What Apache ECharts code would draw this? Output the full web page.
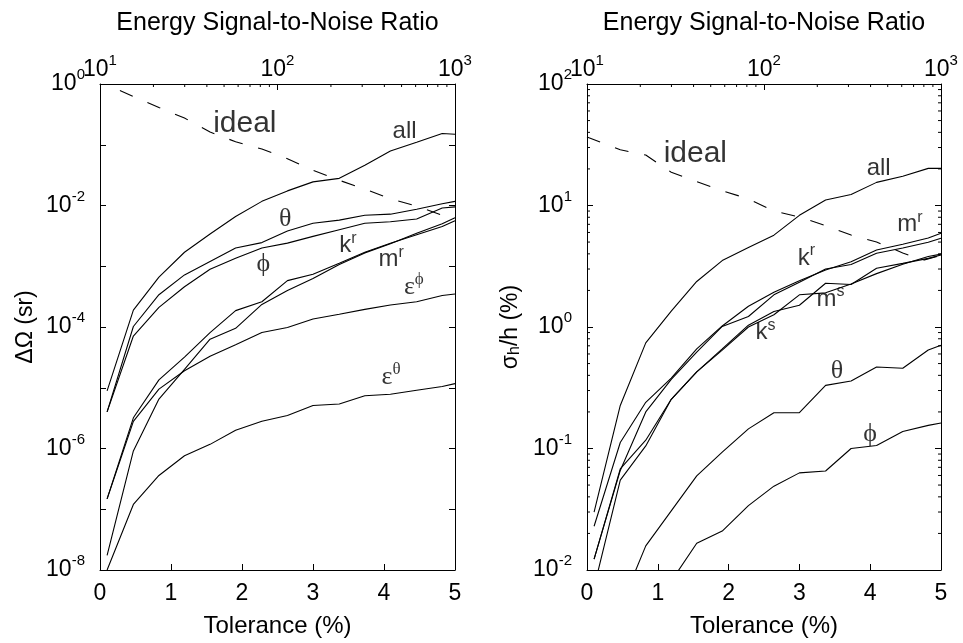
<!DOCTYPE html>
<html>
<head>
<meta charset="utf-8">
<script src="https://cdn.jsdelivr.net/npm/echarts@6/dist/echarts.min.js"></script>
<style>
html,body{margin:0;padding:0;background:#fff}
#chart{width:963px;height:643px}
</style>
</head>
<body>
<div id="chart"></div>
<script>
/* Tolérance vs ΔΩ / σh/h — two log panels */
const TOL = [0.1, 0.47, 0.83, 1.19, 1.55, 1.91, 2.28, 2.64, 3.0, 3.37, 3.73, 4.09, 4.46, 4.82, 5.0];

// left panel: ΔΩ (sr)
const L_ALL    = [8.9e-6, 1.9e-4, 6.6e-4, 1.7e-3, 3.4e-3, 6.6e-3, 1.17e-2, 1.74e-2, 2.45e-2, 2.8e-2, 4.6e-2, 7.9e-2, 0.11, 0.153, 0.149];
const L_THETA  = [4.0e-6, 1.02e-4, 3.4e-4, 7.2e-4, 1.2e-3, 2.0e-3, 2.45e-3, 3.8e-3, 5.1e-3, 5.75e-3, 6.9e-3, 7.2e-3, 8.7e-3, 1.07e-2, 1.17e-2];
const L_PHI    = [4.0e-6, 7.1e-5, 2.1e-4, 4.6e-4, 8.9e-4, 1.35e-3, 2.0e-3, 2.4e-3, 3.1e-3, 4.0e-3, 5.1e-3, 5.4e-3, 6.0e-3, 9.1e-3, 9.5e-3];
const L_KR     = [1.48e-7, 3.2e-6, 1.35e-5, 3.2e-5, 8.1e-5, 1.86e-4, 2.6e-4, 5.8e-4, 7.4e-4, 1.12e-3, 1.7e-3, 2.4e-3, 3.3e-3, 4.5e-3, 5.6e-3];
const L_MR     = [1.74e-8, 9.1e-7, 6.5e-6, 2.0e-5, 6.3e-5, 9.5e-5, 2.35e-4, 4.0e-4, 6.3e-4, 1.07e-3, 1.66e-3, 2.35e-3, 3.5e-3, 5.0e-3, 6.3e-3];
const L_EPHI   = [1.48e-7, 2.8e-6, 9.5e-6, 1.9e-5, 3.3e-5, 5.1e-5, 8.1e-5, 9.8e-5, 1.35e-4, 1.62e-4, 1.95e-4, 2.3e-4, 2.6e-4, 3.3e-4, 3.5e-4];
const L_ETHETA = [1.0e-8, 1.2e-7, 3.6e-7, 7.6e-7, 1.17e-6, 2.0e-6, 2.8e-6, 3.5e-6, 5.1e-6, 5.4e-6, 7.4e-6, 7.8e-6, 9.1e-6, 1.05e-5, 1.17e-5];
const L_IDEAL_X = [0.28, 0.83, 1.19, 1.55, 1.91, 2.28, 2.64, 3.0, 3.37, 3.73, 4.09, 4.46, 4.82, 5.0];
const L_IDEAL   = [0.78, 0.41, 0.275, 0.162, 0.112, 0.085, 0.059, 0.038, 0.026, 0.0186, 0.0129, 0.0098, 0.0069, 0.0062];

// right panel: σh/h (%)
const R_ALL   = [0.030, 0.226, 0.74, 1.35, 2.37, 3.52, 4.52, 5.7, 8.3, 11.1, 12.3, 15.5, 17.4, 20.2, 20.2];
const R_KR    = [0.0229, 0.112, 0.24, 0.38, 0.66, 1.02, 1.48, 1.93, 2.4, 2.95, 3.45, 4.3, 4.8, 5.4, 5.9];
const R_MR    = [0.0123, 0.066, 0.20, 0.37, 0.62, 1.01, 1.22, 1.84, 2.34, 3.0, 3.27, 4.04, 4.47, 4.98, 5.37];
const R_KS    = [0.0123, 0.068, 0.117, 0.254, 0.427, 0.66, 1.035, 1.34, 1.51, 2.29, 2.24, 3.04, 3.34, 3.67, 3.92];
const R_MS    = [0.0072, 0.055, 0.105, 0.254, 0.427, 0.645, 1.0, 1.26, 1.84, 1.91, 2.26, 2.75, 3.28, 3.8, 3.98];
const R_THETA = [5.0e-4, 0.0049, 0.0158, 0.0307, 0.0596, 0.0933, 0.145, 0.197, 0.197, 0.331, 0.359, 0.468, 0.457, 0.646, 0.708];
const R_PHI   = [1e-4, 1e-3, 3.2e-3, 0.0081, 0.0166, 0.0209, 0.0339, 0.049, 0.063, 0.0653, 0.10, 0.106, 0.138, 0.155, 0.162];
const R_IDEAL_X = [0, 0.47, 0.83, 1.19, 1.55, 1.91, 2.28, 2.64, 3.0, 3.37, 3.73, 4.09, 4.46, 4.75, 5.0];
const R_IDEAL   = [36.7, 28.8, 26.0, 18.8, 15.7, 13.2, 11.35, 9.0, 8.04, 6.84, 5.71, 5.01, 4.07, 3.55, 3.89];

// curve labels [x, y, text]
const L_NOTES = [
  [2.04, 0.226, "{big|ideal}"], [4.29, 0.166, "{t|all}"],
  [2.61, 5.9e-3, "{g|θ}"], [2.30, 1.07e-3, "{g|ϕ}"],
  [3.49, 2.2e-3, "{t|k}{ts|r}"], [4.10, 1.3e-3, "{t|m}{ts|r}"],
  [4.42, 4.6e-4, "{g|ε}{gs|ϕ}"], [4.10, 1.48e-5, "{g|ε}{gs|θ}"]
];
const R_NOTES = [
  [1.53, 26.9, "{big|ideal}"], [4.12, 20.4, "{t|all}"],
  [4.56, 7.0, "{t|m}{ts|r}"], [3.10, 3.7, "{t|k}{ts|r}"],
  [3.44, 1.7, "{t|m}{ts|s}"], [2.52, 0.9, "{t|k}{ts|s}"],
  [3.53, 0.434, "{g|θ}"], [4.0, 0.132, "{g|ϕ}"]
];

// minor tick positions
const SNR_MINOR = [20,30,40,50,60,70,80,90,200,300,400,500,600,700,800,900];
const R_Y_MINOR = [0.02,0.03,0.04,0.05,0.06,0.07,0.08,0.09,0.2,0.3,0.4,0.5,0.6,0.7,0.8,0.9,
                   2,3,4,5,6,7,8,9,20,30,40,50,60,70,80,90];

const FONT = "'Liberation Sans', Arial, Helvetica, sans-serif";
const SERIF = "'Liberation Serif', 'DejaVu Serif', serif";
const INK = "#000";

const RICH = {
  b:  {fontSize:23, fontFamily:FONT, color:INK, lineHeight:23, verticalAlign:"bottom"},
  s:  {fontSize:15, fontFamily:FONT, color:INK, lineHeight:15, verticalAlign:"bottom", padding:[0,0,13,0]},
  big:{fontSize:30, fontFamily:FONT, color:INK, lineHeight:30},
  t:  {fontSize:24, fontFamily:FONT, color:INK, lineHeight:24, verticalAlign:"bottom"},
  ts: {fontSize:16, fontFamily:FONT, color:INK, lineHeight:16, verticalAlign:"bottom", padding:[0,0,11,0]},
  g:  {fontSize:26, fontFamily:SERIF, color:INK, lineHeight:26, verticalAlign:"bottom"},
  gs: {fontSize:17, fontFamily:SERIF, color:INK, lineHeight:17, verticalAlign:"bottom", padding:[0,0,12,0]}
};

const pow10 = skipOdd => v => {
  const e = Math.round(Math.log10(v));
  if(skipOdd && e % 2) return "";
  return "{b|10}{s|" + e + "}";
};

const tick = {inside:true, length:6, lineStyle:{color:INK, width:1}};
const line = {lineStyle:{color:INK, width:1}};

function xAxes(g){
  return [
    {gridIndex:g, type:"value", position:"bottom", min:0, max:5, interval:1,
     axisLine:line, axisTick:tick, splitLine:{show:false},
     axisLabel:{fontSize:23, fontFamily:FONT, color:INK, margin:12},
     name:"Tolerance (%)", nameLocation:"middle", nameGap:44,
     nameTextStyle:{fontSize:24, fontFamily:FONT, color:INK}},
    {gridIndex:g, type:"log", logBase:10, position:"top", min:10, max:1000, splitNumber:2,
     axisLine:line, axisTick:tick, splitLine:{show:false},
     axisLabel:{formatter:pow10(false), rich:RICH, margin:3},
     name:"Energy Signal-to-Noise Ratio", nameLocation:"middle", nameGap:48,
     nameTextStyle:{fontSize:25, fontFamily:FONT, color:INK}}
  ];
}
function yAxes(g, min, max, split, skipOdd, name, gap){
  return [
    {gridIndex:g, type:"log", logBase:10, position:"left", min, max, splitNumber:split,
     axisLine:line, axisTick:tick, splitLine:{show:false},
     axisLabel:{formatter:pow10(skipOdd), rich:RICH, margin:15},
     name, nameLocation:"middle", nameGap:gap, nameRotate:90,
     nameTextStyle:{fontSize:23, fontFamily:FONT, color:INK, rich:{
       t:{fontSize:23, fontFamily:FONT, color:INK, lineHeight:23, verticalAlign:"top", padding:[0,0,7,0]},
       sub:{fontSize:16, fontFamily:FONT, color:INK, lineHeight:16, verticalAlign:"bottom"}}}},
    {gridIndex:g, type:"log", logBase:10, position:"right", min, max, splitNumber:split,
     axisLine:line, axisTick:tick, splitLine:{show:false}, axisLabel:{show:false}}
  ];
}

function curve(xi, yi, xs, ys, dashed){
  return {type:"line", xAxisIndex:xi, yAxisIndex:yi, data:xs.map((x,i)=>[x, ys[i]]),
    symbol:"none", silent:true, clip:true, animation:false,
    lineStyle:{color:INK, width:1.1, type:dashed ? [14,16] : "solid"}};
}
function notes(xi, yi, list){
  return {type:"scatter", xAxisIndex:xi, yAxisIndex:yi, silent:true, animation:false,
    symbolSize:1, itemStyle:{color:"transparent"},
    data:list.map(n=>({value:[n[0], n[1]], label:{formatter:n[2]}})),
    label:{show:true, position:"inside", rich:RICH}};
}
// minor ticks on left/right edges of a log y axis
function edgeTicks(xi, yi, vals, len){
  return {type:"custom", xAxisIndex:xi, yAxisIndex:yi, silent:true, animation:false, z:5,
    data:vals.map(v=>[0, v]),
    renderItem:(p, api)=>{
      const v = api.value(1), a = api.coord([0, v]), b = api.coord([5, v]);
      return {type:"group", children:[
        {type:"line", shape:{x1:a[0], y1:a[1], x2:a[0]+len, y2:a[1]}, style:{stroke:INK, lineWidth:1}},
        {type:"line", shape:{x1:b[0]-len, y1:b[1], x2:b[0], y2:b[1]}, style:{stroke:INK, lineWidth:1}}]};
    }};
}
// minor ticks on the top log axis
function topTicks(xi, yi, yTop, vals, len){
  return {type:"custom", xAxisIndex:xi, yAxisIndex:yi, silent:true, animation:false, z:5,
    data:vals.map(v=>[v, yTop]),
    renderItem:(p, api)=>{
      const a = api.coord([api.value(0), yTop]);
      return {type:"line", shape:{x1:a[0], y1:a[1], x2:a[0], y2:a[1]+len}, style:{stroke:INK, lineWidth:1}};
    }};
}

const chart = echarts.init(document.getElementById("chart"), null, {renderer:"canvas"});
chart.setOption({
  backgroundColor:"#fff",
  animation:false,
  grid:[
    {left:100, top:84, width:355, height:487},
    {left:587, top:84, width:354, height:487}
  ],
  xAxis:[...xAxes(0), ...xAxes(1)],
  yAxis:[
    ...yAxes(0, 1e-8, 1, 8, true, "ΔΩ (sr)", 63),
    ...yAxes(1, 0.01, 100, 4, false, "{t|σ}{sub|h}{t|/h (%)}", 55)
  ],
  series:[
    curve(0,0,TOL,L_ALL), curve(0,0,TOL,L_THETA), curve(0,0,TOL,L_PHI),
    curve(0,0,TOL,L_KR), curve(0,0,TOL,L_MR), curve(0,0,TOL,L_EPHI), curve(0,0,TOL,L_ETHETA),
    curve(0,0,L_IDEAL_X,L_IDEAL,true),
    curve(2,2,TOL,R_ALL), curve(2,2,TOL,R_KR), curve(2,2,TOL,R_MR), curve(2,2,TOL,R_KS),
    curve(2,2,TOL,R_MS), curve(2,2,TOL,R_THETA), curve(2,2,TOL,R_PHI),
    curve(2,2,R_IDEAL_X,R_IDEAL,true),
    notes(0,0,L_NOTES), notes(2,2,R_NOTES),
    topTicks(1,0,1,SNR_MINOR,3), topTicks(3,2,100,SNR_MINOR,3),
    edgeTicks(2,2,R_Y_MINOR,3)
  ]
});
</script>
</body>
</html>
